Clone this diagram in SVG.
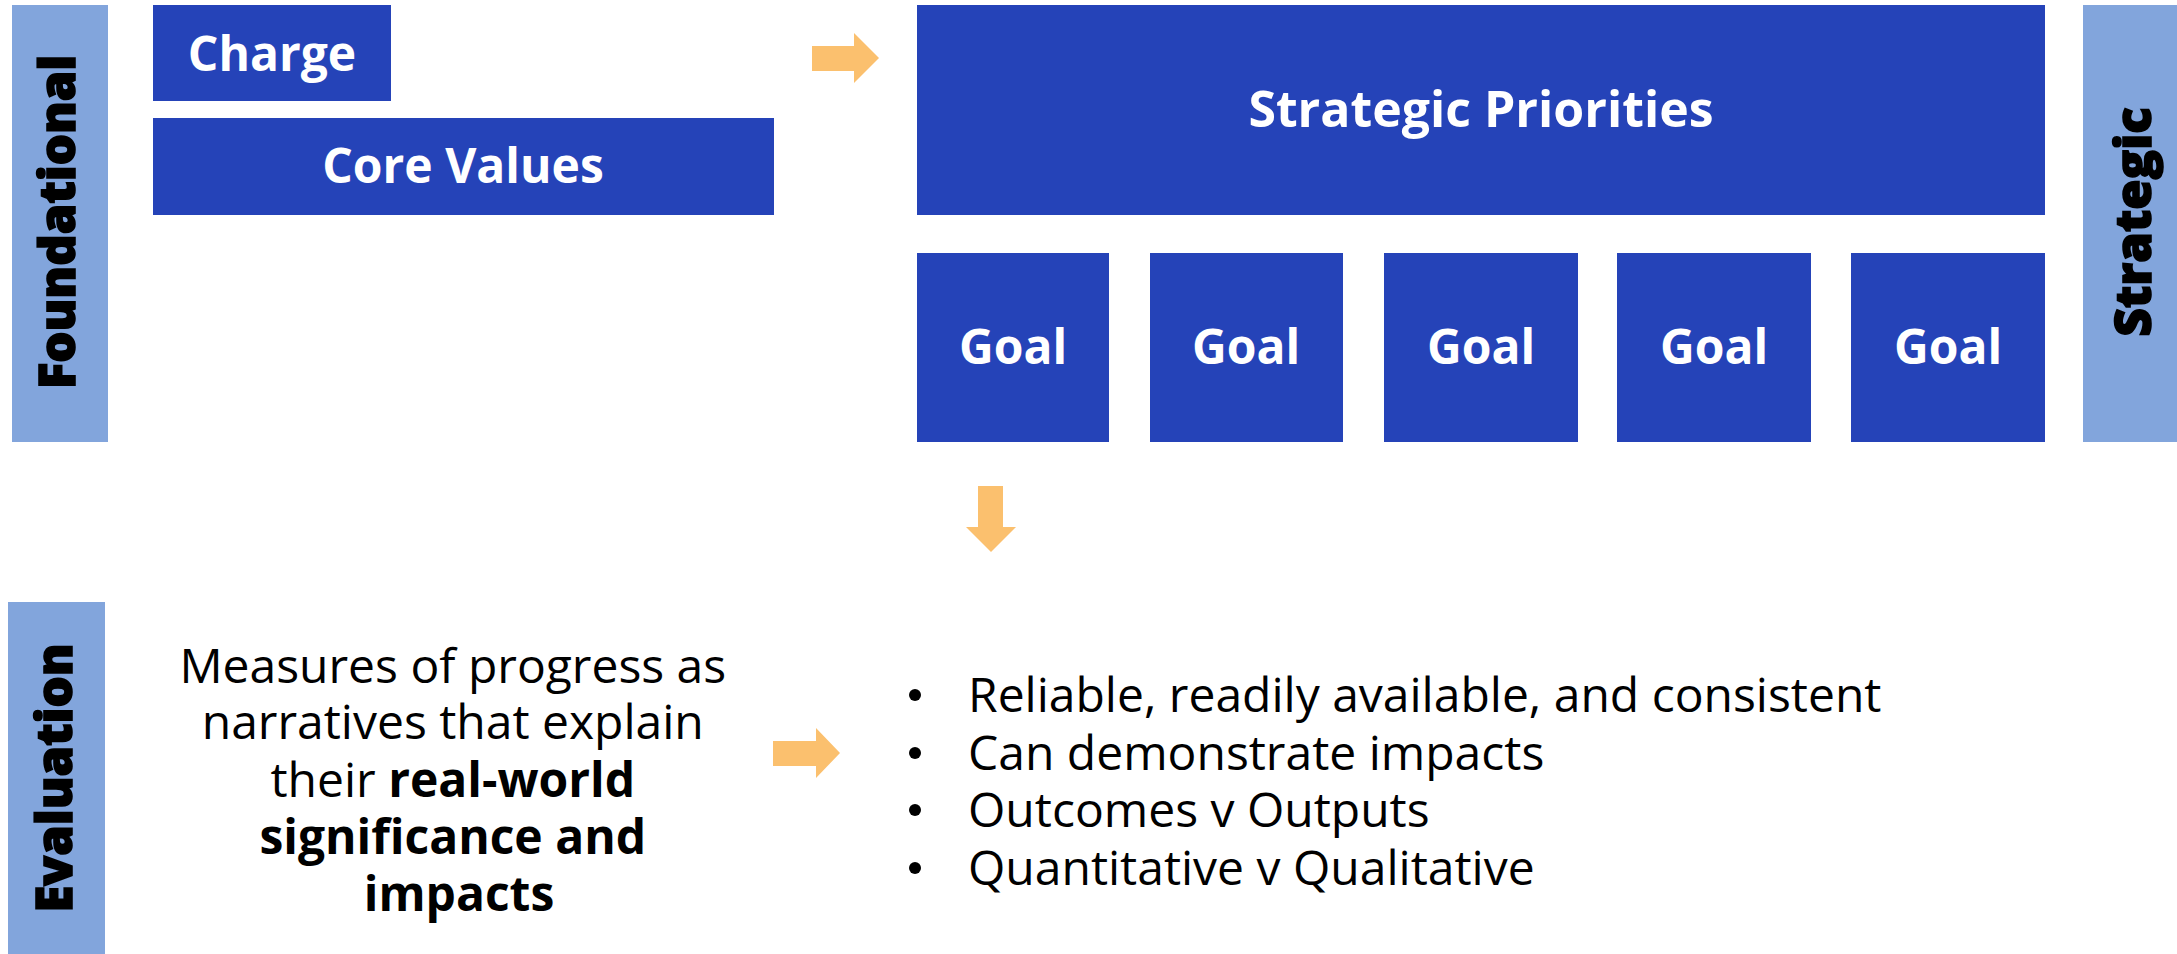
<svg xmlns="http://www.w3.org/2000/svg" width="2177" height="954" viewBox="0 0 2177 954">
<style>
.box{fill:#2543B8}
.side{fill:#82A5DC}
.arrow{fill:#FBC06E}
.t{font-family:"Open Sans","Liberation Sans",sans-serif;font-weight:700;font-size:48px;fill:#fff;text-anchor:middle}
.s{font-family:"Open Sans","Liberation Sans",sans-serif;font-weight:800;font-size:49px;fill:#000;stroke:#000;stroke-width:1.6px;text-anchor:middle}
.b{font-family:"Open Sans","Liberation Sans",sans-serif;font-size:48px;fill:#000}
.bold{font-weight:700}
</style>
<rect width="2177" height="954" fill="#fff"/>
<g id="foundational">
<rect class="side" x="12" y="5" width="96" height="437"/>
<text class="s" transform="translate(75,222) rotate(-90)">Foundational</text>
</g>
<g id="strategic">
<rect class="side" x="2083" y="5" width="94" height="437"/>
<text class="s" transform="translate(2151,222) rotate(-90)">Strategic</text>
</g>
<g id="evaluation">
<rect class="side" x="8" y="602" width="97" height="352"/>
<text class="s" transform="translate(72,778) rotate(-90)">Evaluation</text>
</g>
<g id="charge">
<rect class="box" x="153" y="5" width="238" height="96"/>
<text class="t" x="272" y="71">Charge</text>
</g>
<g id="core-values">
<rect class="box" x="153" y="118" width="621" height="97"/>
<text class="t" x="463" y="183">Core Values</text>
</g>
<g id="strategic-priorities">
<rect class="box" x="917" y="5" width="1128" height="210"/>
<text class="t" x="1481" y="127" style="font-size:50px">Strategic Priorities</text>
</g>
<g id="goal1"><rect class="box" x="917" y="253" width="192" height="189"/><text class="t" x="1013" y="364">Goal</text></g>
<g id="goal2"><rect class="box" x="1150" y="253" width="193" height="189"/><text class="t" x="1246" y="364">Goal</text></g>
<g id="goal3"><rect class="box" x="1384" y="253" width="194" height="189"/><text class="t" x="1481" y="364">Goal</text></g>
<g id="goal4"><rect class="box" x="1617" y="253" width="194" height="189"/><text class="t" x="1714" y="364">Goal</text></g>
<g id="goal5"><rect class="box" x="1851" y="253" width="194" height="189"/><text class="t" x="1948" y="364">Goal</text></g>
<g id="measures">
<text class="b" text-anchor="middle">
<tspan x="459" y="683">Measures of progress as</tspan>
<tspan x="459" y="739">narratives that explain</tspan>
<tspan x="459" y="797">their <tspan class="bold">real-world</tspan></tspan>
<tspan class="bold" x="459" y="854">significance and</tspan>
<tspan class="bold" x="459" y="911">impacts</tspan>
</text>
</g>
<g id="criteria">
<g fill="#000">
<circle cx="915" cy="695" r="6"/>
<circle cx="915" cy="753" r="6"/>
<circle cx="915" cy="810" r="6"/>
<circle cx="915" cy="868" r="6"/>
</g>
<text class="b">
<tspan x="968" y="712">Reliable, readily available, and consistent</tspan>
<tspan x="968" y="770">Can demonstrate impacts</tspan>
<tspan x="968" y="827">Outcomes v Outputs</tspan>
<tspan x="968" y="885">Quantitative v Qualitative</tspan>
</text>
</g>
<g id="connectors">
<polygon class="arrow" points="812,46 854,46 854,33 879,58 854,83 854,71 812,71"/>
<polygon class="arrow" points="978,486 1003,486 1003,527 1016,527 991,552 966,527 978,527"/>
<polygon class="arrow" points="773,741 816,741 816,728 840,753 816,778 816,766 773,766"/>
</g>
</svg>
